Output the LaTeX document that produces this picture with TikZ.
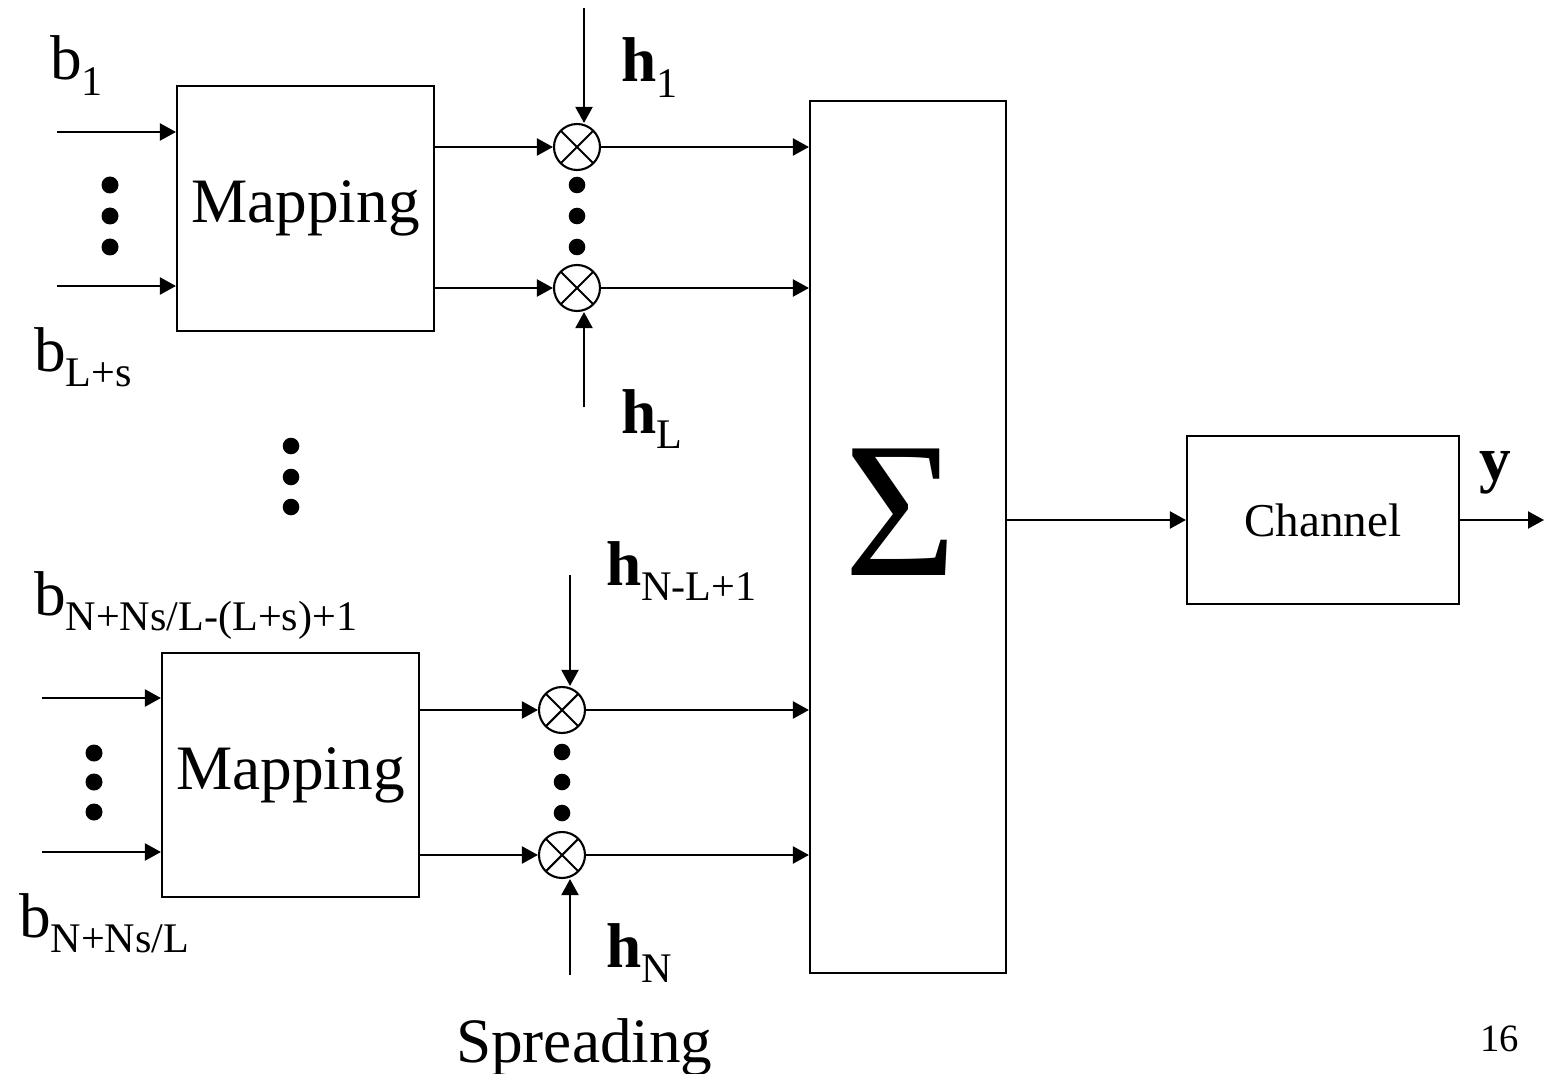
\documentclass[tikz,border=0pt]{standalone}
\usepackage{fontspec}
\setmainfont{Liberation Serif}
\usetikzlibrary{arrows.meta}
\newcommand{\lowsub}[1]{\raisebox{-4.4pt}{\fontsize{12}{14}\selectfont #1}}

\begin{document}
\begin{tikzpicture}[x=1cm, y=-1cm, line width=0.6pt,
    box/.style={rectangle, draw, inner sep=0pt},
    mul/.style={circle, draw, minimum size=0.46cm, inner sep=0pt,
        path picture={\draw (path picture bounding box.north west) -- (path picture bounding box.south east)
                            (path picture bounding box.north east) -- (path picture bounding box.south west);}},
    lbl/.style={inner sep=0pt, anchor=base west, font=\fontsize{18}{20}\selectfont},
    arr/.style={-{Triangle[length=0.16cm, width=0.17cm]}}
]
    \useasboundingbox (0,0) rectangle (15.44,10.74);

    % Mapping blocks
    \node[box, minimum width=2.57cm, minimum height=2.45cm, font=\fontsize{18}{20}\selectfont] (map1) at (3.055,2.085) {Mapping};
    \node[box, minimum width=2.57cm, minimum height=2.44cm, font=\fontsize{18}{20}\selectfont] (map2) at (2.905,7.75) {Mapping};

    % Multipliers
    \node[mul] (mul1) at (5.77,1.47) {};
    \node[mul] (mul2) at (5.77,2.88) {};
    \node[mul] (mul3) at (5.62,7.10) {};
    \node[mul] (mul4) at (5.62,8.55) {};

    % Sum and channel
    \node[box, minimum width=1.96cm, minimum height=8.72cm] (sum) at (9.08,5.37) {};
    \node[inner sep=0pt, font=\fontsize{55}{60}\selectfont] (sumsym) at (9.01,5.12) {Σ};
    \node[box, minimum width=2.72cm, minimum height=1.68cm, font=\fontsize{13.4}{15}\selectfont] (chan) at (13.23,5.20) {Channel};

    % Free ends
    \coordinate (in1a) at (0.57,1.32);
    \coordinate (in1b) at (0.57,2.86);
    \coordinate (in2a) at (0.42,6.98);
    \coordinate (in2b) at (0.42,8.52);
    \coordinate (h1top) at (5.84,0.08);
    \coordinate (hLbot) at (5.84,4.07);
    \coordinate (hNLtop) at (5.70,5.75);
    \coordinate (hNbot) at (5.70,9.75);
    \coordinate (out) at (15.44,5.20);

    % Labels
    \node[lbl] (b1) at (0.49,0.80) {b\lowsub{1}};
    \node[lbl] (bLs) at (0.33,3.71) {b\lowsub{L+s}};
    \node[lbl] (bNfirst) at (0.33,6.15) {b\lowsub{N+Ns/L-(L+s)+1}};
    \node[lbl] (bNlast) at (0.18,9.37) {b\lowsub{N+Ns/L}};
    \node[lbl] (h1) at (6.20,0.82) {\textbf{h}\lowsub{1}};
    \node[lbl] (hL) at (6.20,4.33) {\textbf{h}\lowsub{L}};
    \node[lbl] (hNL) at (6.05,5.85) {\textbf{h}\lowsub{N-L+1}};
    \node[lbl] (hN) at (6.05,9.67) {\textbf{h}\lowsub{N}};
    \node[lbl] (ylbl) at (14.78,4.80) {\textbf{y}};
    \node[lbl] (spread) at (4.55,10.62) {Spreading};
    \node[lbl, font=\fontsize{11}{13}\selectfont] (page) at (14.79,10.51) {16};

    % Inputs
    \draw[arr] (in1a) -- (map1.west |- in1a);
    \draw[arr] (in1b) -- (map1.west |- in1b);
    \draw[arr] (in2a) -- (map2.west |- in2a);
    \draw[arr] (in2b) -- (map2.west |- in2b);

    % Mapping to multipliers
    \draw[arr] (map1.east |- mul1) -- (mul1);
    \draw[arr] (map1.east |- mul2) -- (mul2);
    \draw[arr] (map2.east |- mul3) -- (mul3);
    \draw[arr] (map2.east |- mul4) -- (mul4);

    % Spreading codes
    \draw[arr] (h1top) -- (h1top |- mul1.north);
    \draw[arr] (hLbot) -- (hLbot |- mul2.south);
    \draw[arr] (hNLtop) -- (hNLtop |- mul3.north);
    \draw[arr] (hNbot) -- (hNbot |- mul4.south);

    % Multipliers to sum
    \draw[arr] (mul1) -- (sum.west |- mul1);
    \draw[arr] (mul2) -- (sum.west |- mul2);
    \draw[arr] (mul3) -- (sum.west |- mul3);
    \draw[arr] (mul4) -- (sum.west |- mul4);

    % Sum to channel to output
    \draw[arr] (sum.east |- chan) -- (chan);
    \draw[arr] (chan) -- (out);

    % Dots
    \fill (1.10,1.85) circle (0.085cm);
    \fill (1.10,2.16) circle (0.085cm);
    \fill (1.10,2.47) circle (0.085cm);
    \fill (5.77,1.85) circle (0.083cm);
    \fill (5.77,2.16) circle (0.083cm);
    \fill (5.77,2.47) circle (0.083cm);
    \fill (2.91,4.46) circle (0.083cm);
    \fill (2.91,4.77) circle (0.083cm);
    \fill (2.91,5.07) circle (0.083cm);
    \fill (0.94,7.53) circle (0.085cm);
    \fill (0.94,7.82) circle (0.085cm);
    \fill (0.94,8.12) circle (0.085cm);
    \fill (5.62,7.52) circle (0.083cm);
    \fill (5.62,7.82) circle (0.083cm);
    \fill (5.62,8.13) circle (0.083cm);
\end{tikzpicture}
\end{document}
